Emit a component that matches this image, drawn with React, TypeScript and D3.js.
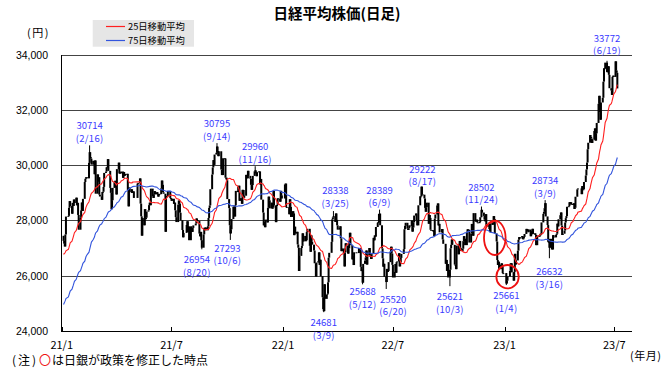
import React from "react";
import * as d3 from "d3";

type Row = [number, number, number]; // month, day, close

// Late-2020 closes (only used to seed the moving averages)
const closes2020Tail: Row[] = [
  [9,11,23406],[9,14,23559],[9,15,23454],[9,16,23475],[9,17,23319],[9,18,23360],[9,23,23346],[9,24,23087],[9,25,23204],[9,28,23511],[9,29,23539],[9,30,23185],
  [10,2,23029],[10,5,23312],[10,6,23433],[10,7,23422],[10,8,23647],[10,9,23619],[10,12,23558],[10,13,23601],[10,14,23626],[10,15,23507],[10,16,23410],[10,19,23671],[10,20,23567],[10,21,23639],[10,22,23474],[10,23,23516],[10,26,23494],[10,27,23485],[10,28,23418],[10,29,23331],[10,30,22977],
  [11,2,23295],[11,4,23695],[11,5,24105],[11,6,24325],[11,9,24839],[11,10,24905],[11,11,25349],[11,12,25520],[11,13,25385],[11,16,25906],[11,17,26014],[11,18,25728],[11,19,25634],[11,20,25527],[11,24,26165],[11,25,26296],[11,26,26537],[11,27,26644],[11,30,26433],
  [12,1,26787],[12,2,26800],[12,3,26809],[12,4,26751],[12,7,26547],[12,8,26467],[12,9,26817],[12,10,26756],[12,11,26652],[12,14,26732],[12,15,26687],[12,16,26757],[12,17,26806],[12,18,26763],[12,21,26714],[12,22,26436],[12,23,26524],[12,24,26668],[12,25,26656],[12,28,26854],[12,29,27568],[12,30,27444],
];

const closes2021: Row[] = [
  [1,4,27258],[1,5,27158],[1,6,27056],[1,7,27490],[1,8,28139],[1,12,28164],[1,13,28456],[1,14,28698],[1,15,28519],[1,18,28242],[1,19,28633],[1,20,28523],[1,21,28756],[1,22,28631],[1,25,28822],[1,26,28546],[1,27,28635],[1,28,28197],[1,29,27663],
  [2,1,28091],[2,2,28362],[2,3,28646],[2,4,28341],[2,5,28779],[2,8,29388],[2,9,29505],[2,10,29562],[2,12,29520],[2,15,30084],[2,16,30467],[2,17,30292],[2,18,30236],[2,19,30017],[2,22,30156],[2,24,29671],[2,25,30168],[2,26,28966],
  [3,1,29663],[3,2,29408],[3,3,29559],[3,4,28930],[3,5,28864],[3,8,28743],[3,9,29028],[3,10,29036],[3,11,29211],[3,12,29717],[3,15,29766],[3,16,29921],[3,17,29914],[3,18,30216],[3,19,29792],[3,22,29174],[3,23,28995],[3,24,28405],[3,25,28729],[3,26,29176],[3,29,29384],[3,30,29432],[3,31,29178],
  [4,1,28938],[4,2,29854],[4,5,30089],[4,6,29696],[4,7,29730],[4,8,29708],[4,9,29768],[4,12,29538],[4,13,29751],[4,14,29620],[4,15,29642],[4,16,29683],[4,19,29685],[4,20,29100],[4,21,28508],[4,22,29188],[4,23,29020],[4,26,29126],[4,27,28991],[4,28,29053],[4,30,28812],
  [5,6,29331],[5,7,29357],[5,10,29518],[5,11,28608],[5,12,28147],[5,13,27448],[5,14,28084],[5,17,27824],[5,18,28406],[5,19,28044],[5,20,28098],[5,21,28317],[5,24,28364],[5,25,28553],[5,26,28642],[5,27,28549],[5,28,29149],[5,31,28860],
  [6,1,28814],[6,2,28946],[6,3,29058],[6,4,28941],[6,7,29019],[6,8,28963],[6,9,28860],[6,10,28958],[6,11,28948],[6,14,29161],[6,15,29441],[6,16,29291],[6,17,29018],[6,18,28964],[6,21,27588],[6,22,28884],[6,23,28874],[6,24,28875],[6,25,29066],[6,28,29048],[6,29,28812],[6,30,28791],
  [7,1,28707],[7,2,28783],[7,5,28598],[7,6,28643],[7,7,28366],[7,8,28118],[7,9,27940],[7,12,28569],[7,13,28718],[7,14,28608],[7,15,28279],[7,16,28003],[7,19,27652],[7,20,27388],[7,21,27548],[7,26,27833],[7,27,27970],[7,28,27581],[7,29,27782],[7,30,27283],
  [8,2,27781],[8,3,27641],[8,4,27584],[8,5,27728],[8,6,27820],[8,10,27888],[8,11,28070],[8,12,28015],[8,13,27977],[8,16,27523],[8,17,27424],[8,18,27585],[8,19,27281],[8,20,27013],[8,23,27494],[8,24,27732],[8,25,27724],[8,26,27742],[8,27,27641],[8,30,27789],[8,31,28089],
  [9,1,28451],[9,2,28543],[9,3,29128],[9,6,29659],[9,7,29916],[9,8,30181],[9,9,30008],[9,10,30381],[9,13,30447],[9,14,30670],[9,15,30511],[9,16,30323],[9,17,30500],[9,21,29839],[9,22,29639],[9,24,30248],[9,27,30240],[9,28,29544],[9,29,29544],[9,30,29452],
  [10,1,28771],[10,4,28444],[10,5,27822],[10,6,27528],[10,7,27678],[10,8,28048],[10,11,28498],[10,12,28230],[10,13,28140],[10,14,28550],[10,15,29068],[10,18,29025],[10,19,29215],[10,20,29255],[10,21,28708],[10,22,28804],[10,25,28600],[10,26,29106],[10,27,29098],[10,28,28820],[10,29,28892],
  [11,1,29647],[11,2,29520],[11,4,29794],[11,5,29611],[11,8,29507],[11,9,29285],[11,10,29106],[11,11,29277],[11,12,29609],[11,15,29776],[11,16,29808],[11,17,29688],[11,18,29598],[11,19,29745],[11,22,29774],[11,24,29302],[11,25,29499],[11,26,28751],[11,29,28283],[11,30,27821],
  [12,1,27935],[12,2,27753],[12,3,28029],[12,6,27927],[12,7,28455],[12,8,28860],[12,9,28725],[12,10,28437],[12,13,28640],[12,14,28432],[12,15,28459],[12,16,29066],[12,17,28545],[12,20,27937],[12,21,28517],[12,22,28562],[12,23,28798],[12,24,28782],[12,27,28676],[12,28,29069],[12,29,28906],[12,30,28791],
];

const closes2022: Row[] = [
  [1,4,29301],[1,5,29332],[1,6,28487],[1,7,28478],[1,11,28222],[1,12,28765],[1,13,28489],[1,14,28124],[1,17,28333],[1,18,28257],[1,19,27467],[1,20,27772],[1,21,27522],[1,24,27588],[1,25,27131],[1,26,27011],[1,27,26170],[1,28,26717],[1,31,27001],
  [2,1,27078],[2,2,27533],[2,3,27241],[2,4,27439],[2,7,27248],[2,8,27284],[2,9,27579],[2,10,27696],[2,14,27079],[2,15,26865],[2,16,27460],[2,17,27232],[2,18,27122],[2,21,26910],[2,22,26449],[2,24,25970],[2,25,26476],[2,28,26526],
  [3,1,26844],[3,2,26393],[3,3,26577],[3,4,25985],[3,7,25221],[3,8,24790],[3,9,24717],[3,10,25690],[3,11,25162],[3,14,25307],[3,15,25346],[3,16,25762],[3,17,26652],[3,18,26827],[3,22,27224],[3,23,28040],[3,24,28110],[3,25,28149],[3,28,27943],[3,29,28252],[3,30,28027],[3,31,27821],
  [4,1,27665],[4,4,27736],[4,5,27787],[4,6,27350],[4,7,26888],[4,8,26985],[4,11,26821],[4,12,26335],[4,13,26843],[4,14,27172],[4,15,27093],[4,18,26799],[4,19,26985],[4,20,27217],[4,21,27553],[4,22,27105],[4,25,26590],[4,26,26700],[4,27,26386],[4,28,26847],
  [5,2,26818],[5,6,27003],[5,9,26319],[5,10,26167],[5,11,26213],[5,12,25748],[5,13,26427],[5,16,26547],[5,17,26659],[5,18,26911],[5,19,26402],[5,20,26739],[5,23,27001],[5,24,26748],[5,25,26677],[5,26,26604],[5,27,26781],[5,30,27369],[5,31,27279],
  [6,1,27457],[6,2,27413],[6,3,27761],[6,6,27915],[6,7,27943],[6,8,28234],[6,9,28246],[6,10,27824],[6,13,26987],[6,14,26629],[6,15,26326],[6,16,26431],[6,17,25963],[6,20,25771],[6,21,26246],[6,22,26149],[6,23,26171],[6,24,26491],[6,27,26871],[6,28,27049],[6,29,26804],[6,30,26393],
  [7,1,25935],[7,4,26153],[7,5,26423],[7,6,26107],[7,7,26490],[7,8,26517],[7,11,26812],[7,12,26336],[7,13,26478],[7,14,26643],[7,15,26788],[7,19,26961],[7,20,27680],[7,21,27803],[7,22,27914],[7,25,27699],[7,26,27655],[7,27,27715],[7,28,27815],[7,29,27801],
  [8,1,27993],[8,2,27594],[8,3,27741],[8,4,27932],[8,5,28175],[8,8,28249],[8,9,27999],[8,10,27819],[8,12,28546],[8,15,28871],[8,16,28868],[8,17,29222],[8,18,28942],[8,19,28930],[8,22,28794],[8,23,28452],[8,24,28313],[8,25,28479],[8,26,28641],[8,29,27878],[8,30,28195],[8,31,28091],
  [9,1,27661],[9,2,27650],[9,5,27619],[9,6,27626],[9,7,27430],[9,8,28065],[9,9,28214],[9,12,28542],[9,13,28614],[9,14,27818],[9,15,27875],[9,16,27567],[9,20,27688],[9,21,27313],[9,22,27153],[9,26,26431],[9,27,26571],[9,28,26173],[9,29,26422],[9,30,25937],
  [10,3,26215],[10,4,26992],[10,5,27120],[10,6,27311],[10,7,27116],[10,11,26401],[10,12,26397],[10,13,26237],[10,14,27090],[10,17,26775],[10,18,27156],[10,19,27257],[10,20,27006],[10,21,26890],[10,24,26974],[10,25,27250],[10,26,27431],[10,27,27345],[10,28,27105],[10,31,27587],
  [11,1,27678],[11,2,27663],[11,4,27199],[11,7,27527],[11,8,27872],[11,9,27716],[11,10,27446],[11,11,28263],[11,14,27963],[11,15,27990],[11,16,28028],[11,17,27930],[11,18,27899],[11,21,27944],[11,22,28115],[11,24,28383],[11,25,28283],[11,28,28162],[11,29,28027],[11,30,27968],
  [12,1,28226],[12,2,27777],[12,5,27820],[12,6,27885],[12,7,27686],[12,8,27574],[12,9,27901],[12,12,27842],[12,13,27954],[12,14,28156],[12,15,28051],[12,16,27527],[12,19,27237],[12,20,26568],[12,21,26387],[12,22,26507],[12,23,26235],[12,26,26405],[12,27,26447],[12,28,26340],[12,29,26093],[12,30,26094],
];

const closes2023: Row[] = [
  [1,4,25716],[1,5,25820],[1,6,25973],[1,10,26175],[1,11,26446],[1,12,26449],[1,13,26119],[1,16,25822],[1,17,26138],[1,18,26791],[1,19,26405],[1,20,26553],[1,23,26906],[1,24,27299],[1,25,27395],[1,26,27362],[1,27,27382],[1,30,27433],[1,31,27327],
  [2,1,27346],[2,2,27402],[2,3,27509],[2,6,27693],[2,7,27685],[2,8,27606],[2,9,27584],[2,10,27670],[2,13,27427],[2,14,27602],[2,15,27501],[2,16,27696],[2,17,27513],[2,20,27531],[2,21,27473],[2,22,27104],[2,24,27453],[2,27,27423],[2,28,27445],
  [3,1,27516],[3,2,27498],[3,3,27927],[3,6,28237],[3,7,28309],[3,8,28444],[3,9,28623],[3,10,28143],[3,13,27832],[3,14,27222],[3,15,27229],[3,16,27010],[3,17,27334],[3,20,26945],[3,22,27466],[3,23,27419],[3,24,27385],[3,27,27476],[3,28,27518],[3,29,27883],[3,30,27782],[3,31,28041],
  [4,3,28188],[4,4,28287],[4,5,27813],[4,6,27472],[4,7,27518],[4,10,27633],[4,11,27923],[4,12,28082],[4,13,28156],[4,14,28493],[4,17,28514],[4,18,28658],[4,19,28606],[4,20,28657],[4,21,28564],[4,24,28593],[4,25,28620],[4,26,28416],[4,27,28457],[4,28,28856],
  [5,1,29123],[5,2,29157],[5,8,28949],[5,9,29242],[5,10,29122],[5,11,29126],[5,12,29388],[5,15,29626],[5,16,29842],[5,17,30093],[5,18,30573],[5,19,30808],[5,22,31086],[5,23,31026],[5,24,30957],[5,25,30801],[5,26,30916],[5,29,31233],[5,30,31328],[5,31,30887],
  [6,1,31148],[6,2,31524],[6,5,32217],[6,6,32506],[6,7,31913],[6,8,31641],[6,9,32265],[6,12,32434],[6,13,33018],[6,14,33502],[6,15,33485],[6,16,33706],[6,19,33370],[6,20,33388],[6,21,33575],[6,22,33264],[6,23,32781],[6,26,32698],[6,27,32538],[6,28,33193],[6,29,33234],[6,30,33189],
  [7,3,33753],[7,4,33422],[7,5,33338],[7,6,32773],
];

// Annotated highs / lows
type Extreme = { date: string; value: number; kind: "high" | "low" };
const extremes: Extreme[] = [
  { date: "2021-02-16", value: 30714, kind: "high" },
  { date: "2021-08-20", value: 26954, kind: "low" },
  { date: "2021-09-14", value: 30795, kind: "high" },
  { date: "2021-10-06", value: 27293, kind: "low" },
  { date: "2021-11-16", value: 29960, kind: "high" },
  { date: "2022-03-09", value: 24681, kind: "low" },
  { date: "2022-03-25", value: 28338, kind: "high" },
  { date: "2022-05-12", value: 25688, kind: "low" },
  { date: "2022-06-09", value: 28389, kind: "high" },
  { date: "2022-06-20", value: 25520, kind: "low" },
  { date: "2022-08-17", value: 29222, kind: "high" },
  { date: "2022-10-03", value: 25621, kind: "low" },
  { date: "2022-11-24", value: 28502, kind: "high" },
  { date: "2023-01-04", value: 25661, kind: "low" },
  { date: "2023-03-09", value: 28734, kind: "high" },
  { date: "2023-03-16", value: 26632, kind: "low" },
  { date: "2023-06-19", value: 33772, kind: "high" },
];
// label nudges in px [dx, dy]
const labelNudge: Record<string, [number, number]> = {
  "26954": [-5, 0],
  "25520": [7, 0],
  "28338": [2, -1],
  "29222": [1, 2],
  "33772": [0, -3],
  "26632": [0, 3],
  "27293": [-3, -2],
  "25688": [0, -3],
};

// BOJ policy-change markers (centre date / value)
const bojMarks = [
  { date: "2022-12-16", value: 27371 },
  { date: "2023-01-06", value: 25964 },
];
const bojRadii: [number, number][] = [[10.8, 17.2], [11.2, 11.7]];

const yTicks = [24000, 26000, 28000, 30000, 32000, 34000];
const xTickDates = ["2021-01-01", "2021-07-01", "2022-01-01", "2022-07-01", "2023-01-01", "2023-07-01"];
const xTickLabels = ["21/1", "21/7", "22/1", "22/7", "23/1", "23/7"];
const legendItems = [
  { label: "25日移動平均", color: "#ff2020", period: 25 },
  { label: "75日移動平均", color: "#3355dd", period: 75 },
];

const JP = "'Noto Sans CJK JP', 'Noto Sans', sans-serif";

function parse(s: string) {
  const [yy, mm, dd] = s.split("-").map(Number);
  return new Date(Date.UTC(yy, mm - 1, dd));
}
function key(d: Date) {
  return d.toISOString().slice(0, 10);
}

export default function App() {
  const mk = (year: number, rows: Row[]) =>
    rows.map(([m, d, c]) => ({ date: new Date(Date.UTC(year, m - 1, d)), close: c }));
  const prior = mk(2020, closes2020Tail);
  const main = [...mk(2021, closes2021), ...mk(2022, closes2022), ...mk(2023, closes2023)];
  const all = [...prior, ...main];
  const n0 = prior.length;

  const x = d3.scaleUtc().domain([parse("2021-01-01"), parse("2023-07-01")]).range([61.7, 614.3]);
  const y = d3.scaleLinear().domain([24000, 34000]).range([331, 54.5]);
  const left = 61, right = 632;

  const extMap = new Map(extremes.map((e) => [e.date, e]));

  const ma = (p: number) => {
    const out: { date: Date; v: number }[] = [];
    for (let i = n0; i < all.length; i++) {
      const s = all.slice(Math.max(0, i - p + 1), i + 1);
      out.push({ date: all[i].date, v: d3.mean(s, (r) => r.close) as number });
    }
    return out;
  };
  const line = d3.line<{ date: Date; v: number }>().x((d) => x(d.date)).y((d) => y(d.v));

  const candles = main.map((r, i) => {
    const open = all[n0 + i - 1].close;
    const e = extMap.get(key(r.date));
    let hi = Math.max(open, r.close);
    let lo = Math.min(open, r.close);
    const bodyHi = hi, bodyLo = lo;
    if (e && e.kind === "high") hi = Math.max(hi, e.value);
    if (e && e.kind === "low") lo = Math.min(lo, e.value);
    return { x: x(r.date), open, close: r.close, hi, lo, bodyHi, bodyLo };
  });

  return (
    <svg width={670} height={376} style={{ position: "absolute", left: 0, top: 0, background: "#fff" }}>
      <rect x={0} y={0} width={670} height={376} fill="#fff" />
      {/* title */}
      <text x={337} y={19} textAnchor="middle" fontFamily={JP} fontWeight="bold" fontSize={14.5} fill="#000">
        日経平均株価(日足)
      </text>
      <text x={27} y={37} fontFamily={JP} fontSize={11} fill="#000" letterSpacing={1.5}>(円)</text>

      {/* legend */}
      <rect x={92.7} y={20} width={101.3} height={26.7} fill="#e6e6e6" />
      {legendItems.map((l, i) => (
        <g key={l.label}>
          <line x1={106} x2={125} y1={26.5 + i * 14} y2={26.5 + i * 14} stroke={l.color} strokeWidth={1.2} />
          <text x={128} y={30 + i * 14} fontFamily={JP} fontSize={9.3} fill="#000">{l.label}</text>
        </g>
      ))}

      {/* grid lines */}
      {yTicks.slice(1).map((t) => (
        <line key={t} x1={left} x2={right} y1={Math.round(y(t)) + 0.5} y2={Math.round(y(t)) + 0.5} stroke="#444" strokeWidth={1} />
      ))}
      {/* y labels */}
      {yTicks.map((t) => (
        <text key={t} x={48} y={y(t) + 4} textAnchor="end" fontFamily="'Liberation Sans', Arial, sans-serif" fontSize={10.5} fill="#000">
          {d3.format(",")(t)}
        </text>
      ))}
      {/* axes */}
      <line x1={left + 0.5} x2={left + 0.5} y1={Math.round(y(34000))} y2={331.5} stroke="#000" />
      <line x1={left} x2={right} y1={331.5} y2={331.5} stroke="#000" />
      {xTickDates.map((d, i) => (
        <g key={d}>
          <line x1={Math.round(x(parse(d))) + 0.5} x2={Math.round(x(parse(d))) + 0.5} y1={331} y2={327} stroke="#000" />
          <text x={x(parse(d))} y={349} textAnchor="middle" fontFamily={JP} fontSize={11} fill="#000">
            {xTickLabels[i]}
          </text>
        </g>
      ))}
      <text x={630} y={360} fontFamily={JP} fontSize={11} fill="#000" letterSpacing={0.5}>(年月)</text>

      {/* candles */}
      {candles.map((c, i) => (
        <g key={i}>
          {(c.hi > c.bodyHi || c.lo < c.bodyLo) && (
            <line x1={c.x} x2={c.x} y1={y(c.hi)} y2={y(c.lo)} stroke="#000" strokeWidth={1} />
          )}
          <rect
            x={c.x - 1}
            y={y(c.bodyHi)}
            width={2}
            height={Math.max(1, y(c.bodyLo) - y(c.bodyHi))}
            fill="#000"
          />
        </g>
      ))}

      {/* moving averages */}
      {legendItems.map((l) => (
        <path key={l.label} d={line(ma(l.period)) || ""} fill="none" stroke={l.color} strokeWidth={1.1} />
      ))}

      {/* BOJ markers */}
      {bojMarks.map((b, i) => (
        <ellipse key={b.date} cx={x(parse(b.date))} cy={y(b.value)} rx={bojRadii[i][0]} ry={bojRadii[i][1]} fill="none" stroke="#ee1111" strokeWidth={1.8} />
      ))}

      {/* annotations */}
      {extremes.map((e) => {
        const [dx, dy] = labelNudge[String(e.value)] || [0, 0];
        const cx = x(parse(e.date)) + dx;
        const py = y(e.value);
        const [, mm, dd] = e.date.split("-").map(Number);
        const vY = e.kind === "high" ? py - 16 + dy : py + 14 + dy;
        return (
          <g key={e.date} fontFamily={JP} fontSize={9.5} fill="#3a3aff" textAnchor="middle">
            <text x={cx} y={vY}>{e.value}</text>
            <text x={cx} y={vY + 12.5} letterSpacing={0.3}>({mm}/{dd})</text>
          </g>
        );
      })}

      {/* footnote */}
      <text y={365} fontFamily={JP} fontSize={12} fill="#000">
        <tspan x={12}>(</tspan>
        <tspan x={18}>注</tspan>
        <tspan x={32}>)</tspan>
        <tspan x={39} fill="#ee1111">〇</tspan>
        <tspan x={52}>は日銀が政策を修正した時点</tspan>
      </text>
    </svg>
  );
}
